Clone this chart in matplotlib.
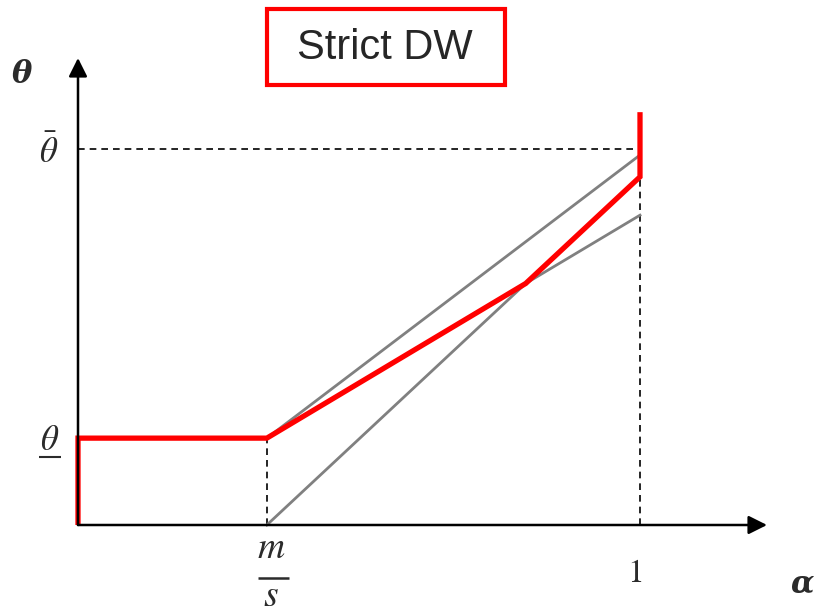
import matplotlib
matplotlib.use("Agg")
import matplotlib.pyplot as plt
import matplotlib.patches as mpatches

plt.rcParams['mathtext.fontset'] = 'stix'

# data (alpha on x, theta on y)
m_over_s = 0.336
theta_low = 0.231
theta_bar = 1.0
line_a_end = 0.984   # gray line from (m/s, theta_low)
line_b_end = 0.926   # gray line from (m/s, 0)
line_c_end = 0.824   # gray line from (m/s, theta_low)
red_top = 1.098
x_tip = 1.226
y_tip = 1.242

# crossing of lines B and C (where the red path changes slope)
t = theta_low / (line_b_end - (line_c_end - theta_low))
x_cross = m_over_s + t * (1 - m_over_s)
y_cross = line_b_end * t

red_x = [0, 0, m_over_s, x_cross, 1, 1]
red_y = [0, theta_low, theta_low, y_cross, line_b_end, red_top]

fig = plt.figure(figsize=(8.14, 6.14), dpi=100)
ax = fig.add_axes([0, 0, 1, 1])
ax.set_xlim(-78 / 562, (814 - 78) / 562)
ax.set_ylim(-89 / 376, 525 / 376)
ax.axis('off')

# axes with arrows
ax.annotate('', xy=(x_tip, 0), xytext=(0, 0),
            arrowprops=dict(arrowstyle='-|>', color='black', lw=1.8, mutation_scale=28, shrinkA=0, shrinkB=0))
ax.annotate('', xy=(0, y_tip), xytext=(0, 0),
            arrowprops=dict(arrowstyle='-|>', color='black', lw=1.8, mutation_scale=28, shrinkA=0, shrinkB=0))

# dashed guides
ax.plot([0, 1], [theta_bar, theta_bar], color='black', ls=(0, (4, 3)), lw=1.2)
ax.plot([m_over_s, m_over_s], [0, theta_low], color='black', ls=(0, (4, 3)), lw=1.2)
ax.plot([1, 1], [0, theta_bar], color='black', ls=(0, (4, 3)), lw=1.2)

# gray lines
gray = '#808080'
ax.plot([m_over_s, 1], [theta_low, line_a_end], color=gray, lw=2)
ax.plot([m_over_s, 1], [0, line_b_end], color=gray, lw=2)
ax.plot([m_over_s, 1], [theta_low, line_c_end], color=gray, lw=2)

# red path
ax.plot(red_x, red_y, color='#ff0000', lw=3.8, solid_joinstyle='miter', solid_capstyle='butt')

# labels
tc = '#2b2b2b'
ax.text(-0.1, 1.198, 'θ', family='DejaVu Serif', style='italic', weight='bold',
        fontsize=22, color=tc, ha='center', va='center')
ax.text(-0.053, theta_bar - 0.01, r'$\bar{\theta}$', fontsize=25, color=tc, ha='center', va='center')
ax.text(-0.05, theta_low - 0.005, r'$\theta$', fontsize=25, color=tc, ha='center', va='center')
ax.plot([-0.0694, -0.0302], [0.181, 0.181], color=tc, lw=1.5, solid_capstyle='butt')

# m/s drawn as stacked fraction
ax.text(m_over_s + 0.008, -0.062, r'$m$', fontsize=27, color=tc, ha='center', va='center')
ax.plot([m_over_s - 0.016, m_over_s + 0.039], [-0.141, -0.141], color=tc, lw=1.8, solid_capstyle='butt')
ax.text(m_over_s + 0.008, -0.188, r'$s$', fontsize=27, color=tc, ha='center', va='center')

ax.text(0.99, -0.125, r'$1$', fontsize=24, color=tc, ha='center', va='center')
ax.text(1.288, -0.157, 'α', family='DejaVu Serif', style='italic', weight='bold',
        fontsize=22, color=tc, ha='center', va='center')

# title box
W, H = 814, 614
box = mpatches.Rectangle((267 / W, 1 - 85 / H), (505 - 267) / W, (85 - 9) / H,
                         transform=fig.transFigure, fill=False, ec='#ff0000', lw=3)
fig.add_artist(box)
fig.text(385 / W, 1 - 48 / H, 'Strict DW', family='Liberation Sans', fontsize=30,
         color='#262626', ha='center', va='center')

fig.savefig('out.png', dpi=100)
